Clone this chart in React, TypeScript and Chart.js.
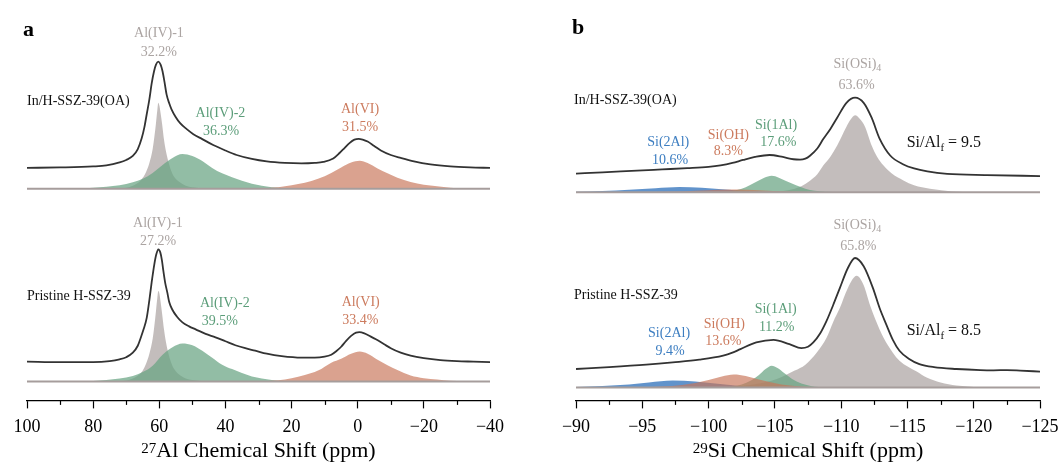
import React, { useEffect, useRef } from "react";
import { Chart, registerables } from "chart.js";
Chart.register(...registerables);

const FONT = "'Liberation Serif', 'Times New Roman', serif";

// ---------------- Panel a : 27Al ----------------
const alMajorTicks = [100, 80, 60, 40, 20, 0, -20, -40];
const alMinorTicks = [90, 70, 50, 30, 10, -10, -30];
const alTopOffset = 194;

const alGrayX = [72, 70, 68, 66, 65, 64, 63, 62, 61.5, 61, 60.6, 60.3, 60, 59.6, 59.1, 58.6, 58, 57.3, 56.5, 55.5, 54, 52, 50, 46];
const alGrayTop = [0, 1, 3, 7, 11, 17, 26, 40, 52, 66, 79, 86.5, 84, 76, 64, 50, 38, 28, 19, 12, 7, 3, 1.5, 0];
const alGrayBot = [0, 1, 3, 7, 11, 18, 28, 43, 56, 71, 84, 91, 89, 80, 67, 53, 40, 29, 20, 12.5, 7, 3, 1.5, 0];

const alGreenX = [84, 80, 76, 72, 68, 65, 62, 59, 56, 53, 50, 47, 44, 41, 38, 35, 32, 29, 26, 22, 18];
const alGreenTop = [0, 1, 2, 3.5, 6.5, 10, 16, 24, 31, 35, 33, 28, 21, 15.5, 11.5, 8, 5, 3, 1.6, 0.6, 0];
const alGreenBot = [0, 0.6, 1.5, 3, 5.5, 9.5, 16, 27, 34.5, 38.2, 36.5, 31, 24, 17, 12.5, 8.5, 5, 3, 1.6, 0.5, 0];

const alRedX = [32, 28, 24, 20, 16, 12, 8, 5, 2, -0.6, -3, -6, -9, -12, -16, -20, -24, -28, -32];
const alRedTop = [0, 0.5, 1.5, 3.5, 6, 10, 16, 21.5, 26.5, 28.3, 26, 20.5, 15.5, 11, 6.7, 4, 2.5, 1, 0.3];
const alRedBot = [0, 0.3, 1.2, 3.2, 6.5, 11, 19, 23, 28, 30.2, 28, 22, 16.5, 11.5, 6, 3.3, 2, 0.8, 0.2];

const alSpecTopX = [100, 90, 80, 76, 72, 70, 68, 66.5, 65.3, 64.5, 63.8, 63, 62.3, 61.6, 61, 60.3, 59.6, 59, 58.4, 57.8, 57, 56.3, 55, 53.7, 51.7, 49.7, 47, 43.7, 40, 36.6, 32, 27.5, 22, 17, 13, 10.4, 7.4, 5.5, 4, 2.5, 1, -0.3, -1.5, -3, -5, -7, -10, -13, -17, -22, -28, -34, -40];
const alSpecTopY = [21, 21.5, 22.5, 23.5, 26.5, 29, 33, 40, 51, 62, 75, 90, 106, 118, 125, 128, 125, 118, 107, 95, 86, 80, 72, 66, 60, 55, 50, 44, 38.5, 34, 30, 27.5, 26, 25.5, 26, 27, 30.5, 36, 41, 46, 49.5, 50.3, 49.5, 47.5, 43, 38.5, 34, 31, 27.5, 24.5, 22.5, 21.5, 21];

const alSpecBotX = [100, 90, 80, 75, 72, 70, 68, 66.5, 65.5, 64.8, 63.8, 63, 62.3, 61.5, 60.9, 60.3, 59.7, 59.2, 58.8, 58.2, 57.6, 57, 56, 54.7, 53, 51, 49, 46, 43, 40, 37, 34, 31, 27.5, 23, 17, 13, 10, 8, 6.5, 5, 3.5, 2, 0.5, -0.5, -2, -3.5, -5.5, -8, -10, -13, -16, -20, -25, -30, -35, -40];
const alSpecBotY = [20, 19.5, 19.5, 20.5, 22.3, 24.5, 29, 36, 45, 52, 64, 82, 100, 118, 128, 133, 130, 122, 112, 99, 90, 80, 72, 65.5, 59.5, 55.5, 52.5, 48, 44.5, 40.5, 36.5, 33.5, 31, 28, 25.5, 24, 24, 25, 27, 30.5, 35, 41, 46, 49.3, 49.7, 48.5, 46, 42.5, 37.5, 33.5, 29, 26, 23.5, 21.5, 20.5, 20, 19.5];

// ---------------- Panel b : 29Si ----------------
const siMajorTicks = [-90, -95, -100, -105, -110, -115, -120, -125];
const siMinorTicks = [-92.5, -97.5, -102.5, -107.5, -112.5, -117.5, -122.5];
const siTopOffset = 196.5;

const siGrayTopX = [-104, -105, -106, -107, -107.65, -108.2, -108.65, -109.2, -109.7, -110.4, -110.7, -111.05, -111.4, -111.8, -112.3, -112.7, -113.2, -113.8, -114.7, -115.5, -116.7, -118.4, -120];
const siGrayTopY = [0, 0.5, 2, 6, 11.5, 18, 26.8, 36, 47, 66, 73, 77.5, 74, 66, 47, 36, 26.8, 19, 11.8, 7, 3.5, 0.8, 0];
const siGrayBotX = [-102, -103.6, -104.8, -105.6, -106.5, -107.3, -108.15, -108.9, -109.4, -109.9, -110.5, -111.17, -111.7, -112.2, -112.6, -113.2, -113.9, -114.4, -115.7, -116.45, -117.5, -118.7, -120, -122];
const siGrayBotY = [0.5, 3.5, 7, 11, 17, 23, 35, 50, 66, 80, 100, 112.5, 103, 82, 68, 50, 35, 27, 16, 10, 5, 2, 0.6, 0];

const siGreenTopX = [-100, -101, -101.8, -102.5, -103.1, -103.75, -104.2, -104.76, -105.3, -105.8, -106.6, -107.3, -108, -108.8, -110];
const siGreenTopY = [0, 0.4, 1.5, 3.5, 7, 11.5, 14.5, 16.5, 14.7, 11.5, 7, 3.5, 1.5, 0.5, 0];
const siGreenBotX = [-100, -101, -101.8, -102.5, -103.2, -103.8, -104.3, -104.76, -105.2, -105.7, -106.3, -107, -107.8, -108.8, -110];
const siGreenBotY = [0, 0.3, 1, 3, 7, 12.5, 18.5, 22, 19.5, 14.5, 8.5, 4, 1.3, 0.3, 0];

const siRedTopX = [-94, -96, -98, -100, -101.5, -103, -104.5, -106, -108, -110];
const siRedTopY = [0, 0.2, 0.8, 2, 2.7, 2.4, 1.5, 0.7, 0.2, 0];
const siRedBotX = [-93, -95, -96.5, -98, -99, -100, -101, -101.9, -102.8, -103.8, -104.6, -105.5, -106.5, -108, -110];
const siRedBotY = [0, 0.3, 1, 2.5, 4.5, 7.5, 11, 13, 11.5, 8, 5.5, 3, 1.5, 0.4, 0];

const siBlueTopX = [-90, -92, -94, -96, -97.8, -99.5, -101, -102.5, -104, -106];
const siBlueTopY = [0.6, 1.3, 2.5, 4, 5.2, 4.5, 3, 1.5, 0.6, 0.1];
const siBlueBotX = [-90, -92, -94, -95.5, -97.3, -99, -100.5, -102, -103.5, -105, -107];
const siBlueBotY = [0.6, 1.5, 3, 5, 7, 6, 4, 2, 0.8, 0.3, 0];

const siSpecTopX = [-90, -92, -94.6, -96.5, -98.4, -100, -100.9, -101.8, -102.6, -103.5, -104.6, -105.6, -106.4, -106.9, -107.3, -107.65, -108.2, -108.65, -109.2, -109.7, -110.4, -111.05, -111.7, -112.3, -112.9, -113.7, -114.7, -115.5, -116.5, -118, -121, -125];
const siSpecTopY = [18.8, 20, 21.8, 23, 24.2, 25.5, 27, 29.5, 32.5, 35.5, 37.5, 35.5, 33.2, 32.8, 33.8, 36.8, 44, 53.5, 64, 75, 90, 95.2, 90, 75, 54, 37, 28, 24, 21, 18.5, 17.3, 16.3];
const siSpecBotX = [-90, -92.5, -95.3, -97.3, -99.3, -101.1, -101.8, -102.4, -103.6, -104.9, -106.1, -107, -107.5, -107.9, -108.4, -108.9, -109.4, -109.9, -110.5, -111.05, -111.7, -112.4, -112.9, -113.4, -113.9, -114.4, -115.1, -115.9, -117, -118.7, -120.5, -121.5, -122.5, -123.5, -125];
const siSpecBotY = [18.6, 20.5, 23, 25.3, 28, 32, 35, 38.6, 45.3, 48, 43.6, 39.6, 41, 45.3, 54, 67, 83, 100, 120, 130.3, 122, 100, 80, 63.6, 48, 37, 29, 23.6, 20.5, 18.6, 17.5, 17.3, 17.5, 17, 16];

// ---------------- styles ----------------
const LINE_C = "#333333";
const BASE_C = "#a69d9c";
const GRAY_F = "rgba(172,164,162,0.72)";
const GREEN_F = "rgba(104,164,130,0.72)";
const RED_F = "rgba(200,118,90,0.68)";
const BLUE_F = "rgba(58,120,190,0.8)";
const GRAY_T = "#aba4a2";
const GREEN_T = "#5b9d79";
const RED_T = "#cc7b5e";
const BLUE_T = "#3d7ec1";
const BLACK_T = "#111111";

type Seg = { t: string; sub?: boolean };
type Label = { x: number; y: number; segs: Seg[]; color: string; size?: number; align?: "left" | "center" };

const T = (t: string): Seg[] => [{ t }];

const alLabels: Label[] = [
  { x: 60.1, y: 350, segs: T("Al(IV)-1"), color: GRAY_T },
  { x: 60.1, y: 331, segs: T("32.2%"), color: GRAY_T },
  { x: 41.5, y: 270, segs: T("Al(IV)-2"), color: GREEN_T },
  { x: 41.3, y: 252, segs: T("36.3%"), color: GREEN_T },
  { x: -0.7, y: 274, segs: T("Al(VI)"), color: RED_T },
  { x: -0.7, y: 256, segs: T("31.5%"), color: RED_T },
  { x: 100, y: 282, segs: T("In/H-SSZ-39(OA)"), color: BLACK_T, align: "left" },
  { x: 60.4, y: 159, segs: T("Al(IV)-1"), color: GRAY_T },
  { x: 60.4, y: 141, segs: T("27.2%"), color: GRAY_T },
  { x: 40.2, y: 79, segs: T("Al(IV)-2"), color: GREEN_T },
  { x: 41.7, y: 61, segs: T("39.5%"), color: GREEN_T },
  { x: -0.9, y: 80, segs: T("Al(VI)"), color: RED_T },
  { x: -0.8, y: 62, segs: T("33.4%"), color: RED_T },
  { x: 100, y: 86, segs: T("Pristine H-SSZ-39"), color: BLACK_T, align: "left" },
];

const siLabels: Label[] = [
  { x: -111.23, y: 325, segs: [{ t: "Si(OSi)" }, { t: "4", sub: true }], color: GRAY_T },
  { x: -111.17, y: 304, segs: T("63.6%"), color: GRAY_T },
  { x: -96.96, y: 246.7, segs: T("Si(2Al)"), color: BLUE_T },
  { x: -97.09, y: 229, segs: T("10.6%"), color: BLUE_T },
  { x: -101.49, y: 254, segs: T("Si(OH)"), color: RED_T },
  { x: -101.49, y: 237.3, segs: T("8.3%"), color: RED_T },
  { x: -105.09, y: 264, segs: T("Si(1Al)"), color: GREEN_T },
  { x: -105.26, y: 246.7, segs: T("17.6%"), color: GREEN_T },
  { x: -114.94, y: 246, segs: [{ t: "Si/Al" }, { t: "f", sub: true }, { t: " = 9.5" }], color: BLACK_T, size: 16, align: "left" },
  { x: -89.85, y: 289, segs: T("In/H-SSZ-39(OA)"), color: BLACK_T, align: "left" },
  { x: -111.22, y: 163.3, segs: [{ t: "Si(OSi)" }, { t: "4", sub: true }], color: GRAY_T },
  { x: -111.3, y: 141.7, segs: T("65.8%"), color: GRAY_T },
  { x: -97.02, y: 55, segs: T("Si(2Al)"), color: BLUE_T },
  { x: -97.09, y: 36.7, segs: T("9.4%"), color: BLUE_T },
  { x: -101.19, y: 64, segs: T("Si(OH)"), color: RED_T },
  { x: -101.11, y: 46, segs: T("13.6%"), color: RED_T },
  { x: -105.06, y: 78.3, segs: T("Si(1Al)"), color: GREEN_T },
  { x: -105.14, y: 60.7, segs: T("11.2%"), color: GREEN_T },
  { x: -114.94, y: 56.7, segs: [{ t: "Si/Al" }, { t: "f", sub: true }, { t: " = 8.5" }], color: BLACK_T, size: 16, align: "left" },
  { x: -89.85, y: 92.3, segs: T("Pristine H-SSZ-39"), color: BLACK_T, align: "left" },
];

type Curve = { xs: number[]; ys: number[]; off: number; fill: string | null; order: number };

interface PanelDef {
  xMin: number; xMax: number; yMin: number; yMax: number;
  major: number[]; minor: number[];
  padL: number; padR: number;
  letter: string; letterX: number; letterY: number;
  titleSup: string; titleMain: string;
  baselines: number[];
  curves: Curve[];
  labels: Label[];
}

const panelA: PanelDef = {
  xMin: -40, xMax: 100, yMin: -19, yMax: 384,
  major: alMajorTicks, minor: alMinorTicks,
  padL: 27, padR: 40,
  letter: "a", letterX: 23, letterY: 30,
  titleSup: "27", titleMain: "Al Chemical Shift (ppm)",
  baselines: [0, alTopOffset],
  curves: [
    { xs: alGrayX, ys: alGrayTop, off: alTopOffset, fill: GRAY_F, order: 6 },
    { xs: alGreenX, ys: alGreenTop, off: alTopOffset, fill: GREEN_F, order: 5 },
    { xs: alRedX, ys: alRedTop, off: alTopOffset, fill: RED_F, order: 4 },
    { xs: alGrayX, ys: alGrayBot, off: 0, fill: GRAY_F, order: 6 },
    { xs: alGreenX, ys: alGreenBot, off: 0, fill: GREEN_F, order: 5 },
    { xs: alRedX, ys: alRedBot, off: 0, fill: RED_F, order: 4 },
    { xs: alSpecTopX, ys: alSpecTopY, off: alTopOffset, fill: null, order: 1 },
    { xs: alSpecBotX, ys: alSpecBotY, off: 0, fill: null, order: 1 },
  ],
  labels: alLabels,
};

const panelB: PanelDef = {
  xMin: -125, xMax: -90, yMin: -13, yMax: 390,
  major: siMajorTicks, minor: siMinorTicks,
  padL: 46, padR: 19,
  letter: "b", letterX: 42, letterY: 28,
  titleSup: "29", titleMain: "Si Chemical Shift (ppm)",
  baselines: [0, siTopOffset],
  curves: [
    { xs: siGrayTopX, ys: siGrayTopY, off: siTopOffset, fill: GRAY_F, order: 6 },
    { xs: siGreenTopX, ys: siGreenTopY, off: siTopOffset, fill: GREEN_F, order: 5 },
    { xs: siRedTopX, ys: siRedTopY, off: siTopOffset, fill: RED_F, order: 4 },
    { xs: siBlueTopX, ys: siBlueTopY, off: siTopOffset, fill: BLUE_F, order: 7 },
    { xs: siGrayBotX, ys: siGrayBotY, off: 0, fill: GRAY_F, order: 6 },
    { xs: siGreenBotX, ys: siGreenBotY, off: 0, fill: GREEN_F, order: 5 },
    { xs: siRedBotX, ys: siRedBotY, off: 0, fill: RED_F, order: 4 },
    { xs: siBlueBotX, ys: siBlueBotY, off: 0, fill: BLUE_F, order: 7 },
    { xs: siSpecTopX, ys: siSpecTopY, off: siTopOffset, fill: null, order: 1 },
    { xs: siSpecBotX, ys: siSpecBotY, off: 0, fill: null, order: 1 },
  ],
  labels: siLabels,
};

const fmt = (v: number) => (v < 0 ? "\u2212" + Math.abs(v) : String(v));

function drawRich(ctx: CanvasRenderingContext2D, segs: Seg[], x: number, y: number, size: number, align: string) {
  const subSize = Math.round(size * 0.68);
  const widths = segs.map((s) => {
    ctx.font = `${s.sub ? subSize : size}px ${FONT}`;
    return ctx.measureText(s.t).width;
  });
  const total = widths.reduce((a, b) => a + b, 0);
  let cx = align === "center" ? x - total / 2 : x;
  ctx.textAlign = "left";
  ctx.textBaseline = "middle";
  segs.forEach((s, i) => {
    ctx.font = `${s.sub ? subSize : size}px ${FONT}`;
    ctx.fillText(s.t, cx, y + (s.sub ? size * 0.3 : 0));
    cx += widths[i];
  });
}

function makeOverlay(p: PanelDef) {
  return {
    id: "overlay",
    afterDraw(chart: any) {
      const ctx: CanvasRenderingContext2D = chart.ctx;
      const xs = chart.scales.x;
      const ys = chart.scales.y;
      const area = chart.chartArea;
      ctx.save();
      ctx.strokeStyle = "#000";
      ctx.lineWidth = 1.2;
      p.minor.forEach((v) => {
        const px = Math.round(xs.getPixelForValue(v)) + 0.5;
        ctx.beginPath();
        ctx.moveTo(px, area.bottom);
        ctx.lineTo(px, area.bottom + 4.5);
        ctx.stroke();
      });
      p.labels.forEach((l) => {
        ctx.fillStyle = l.color;
        drawRich(ctx, l.segs, xs.getPixelForValue(l.x), ys.getPixelForValue(l.y), l.size || 14, l.align || "center");
      });
      const mainSize = 22;
      const supSize = 15;
      ctx.font = `${supSize}px ${FONT}`;
      const wSup = ctx.measureText(p.titleSup).width;
      ctx.font = `${mainSize}px ${FONT}`;
      const wMain = ctx.measureText(p.titleMain).width;
      const cx = (area.left + area.right) / 2;
      const base = area.bottom + 57;
      let tx = cx - (wSup + wMain) / 2;
      ctx.fillStyle = "#000";
      ctx.textAlign = "left";
      ctx.textBaseline = "alphabetic";
      ctx.font = `${supSize}px ${FONT}`;
      ctx.fillText(p.titleSup, tx, base - 4);
      tx += wSup;
      ctx.font = `${mainSize}px ${FONT}`;
      ctx.fillText(p.titleMain, tx, base);
      ctx.font = `bold 22px ${FONT}`;
      ctx.textBaseline = "middle";
      ctx.fillText(p.letter, p.letterX, p.letterY);
      ctx.restore();
    },
  };
}

function buildChart(canvas: HTMLCanvasElement, p: PanelDef) {
  const datasets: any[] = [];
  p.baselines.forEach((b) => {
    datasets.push({
      data: [{ x: p.xMax, y: b }, { x: p.xMin, y: b }],
      borderColor: BASE_C,
      borderWidth: 2.2,
      pointRadius: 0,
      fill: false,
      order: 0,
    });
  });
  p.curves.forEach((c) => {
    datasets.push({
      data: c.xs.map((x, i) => ({ x, y: c.ys[i] + c.off })),
      borderColor: c.fill ? "rgba(0,0,0,0)" : LINE_C,
      borderWidth: c.fill ? 0 : 1.8,
      backgroundColor: c.fill || "rgba(0,0,0,0)",
      fill: c.fill ? { value: c.off } : false,
      pointRadius: 0,
      cubicInterpolationMode: "monotone",
      order: c.order,
    });
  });
  return new Chart(canvas, {
    type: "line",
    data: { datasets },
    options: {
      responsive: false,
      animation: false,
      events: [],
      layout: { padding: { left: p.padL, right: p.padR, top: 0, bottom: 20 } },
      plugins: { legend: { display: false }, tooltip: { enabled: false }, title: { display: false } },
      scales: {
        x: {
          type: "linear",
          reverse: true,
          min: p.xMin,
          max: p.xMax,
          afterBuildTicks: (s: any) => {
            s.ticks = p.major.map((v) => ({ value: v }));
          },
          afterFit: (s: any) => {
            s.paddingLeft = 0;
            s.paddingRight = 0;
          },
          ticks: {
            callback: (v: any) => fmt(Number(v)),
            font: { family: FONT, size: 18 },
            color: "#000",
            padding: 8,
            maxRotation: 0,
            autoSkip: false,
          },
          grid: {
            display: true,
            drawOnChartArea: false,
            drawTicks: true,
            tickLength: 8,
            tickColor: "#000",
            tickWidth: 1.2,
          },
          border: { display: true, color: "#000", width: 1.2 },
        },
        y: { type: "linear", display: false, min: p.yMin, max: p.yMax },
      },
    } as any,
    plugins: [makeOverlay(p)],
  });
}

function Panel({ def, left, width }: { def: PanelDef; left: number; width: number }) {
  const ref = useRef<HTMLCanvasElement | null>(null);
  useEffect(() => {
    if (!ref.current) return;
    const chart = buildChart(ref.current, def);
    return () => chart.destroy();
  }, [def]);
  return (
    <canvas
      ref={ref}
      width={width}
      height={466}
      style={{ position: "absolute", left, top: 0, width, height: 466, display: "block" }}
    />
  );
}

export default function App() {
  return (
    <div style={{ position: "absolute", left: 0, top: 0, width: 1059, height: 466, background: "#fff", overflow: "hidden" }}>
      <Panel def={panelA} left={0} width={530} />
      <Panel def={panelB} left={530} width={529} />
    </div>
  );
}
